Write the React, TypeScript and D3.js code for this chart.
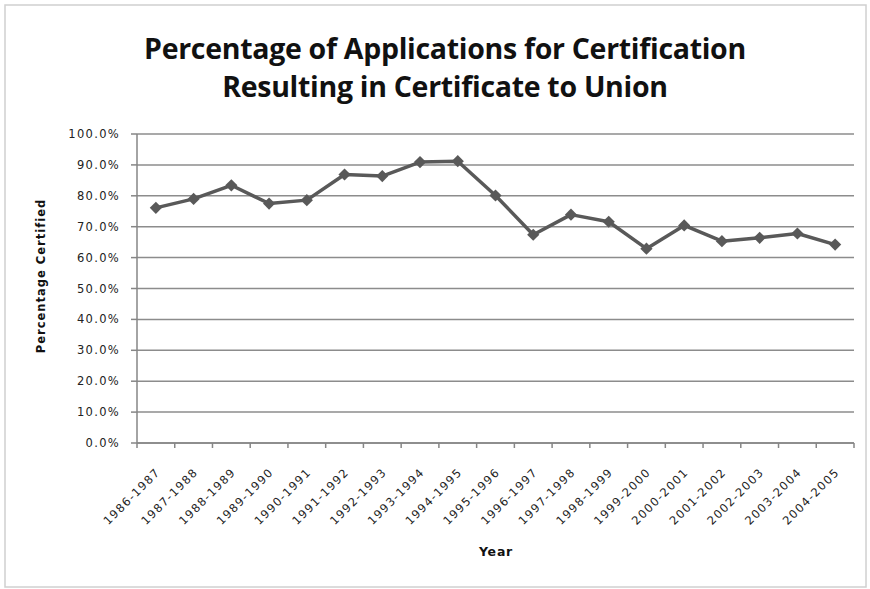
import React from 'react';
import * as d3 from 'd3';

const years = [
  '1986-1987', '1987-1988', '1988-1989', '1989-1990', '1990-1991',
  '1991-1992', '1992-1993', '1993-1994', '1994-1995', '1995-1996',
  '1996-1997', '1997-1998', '1998-1999', '1999-2000', '2000-2001',
  '2001-2002', '2002-2003', '2003-2004', '2004-2005',
];

// percentage certified
const certified = [
  76.1, 79.0, 83.4, 77.5, 78.6, 86.9, 86.4, 90.9, 91.2, 80.1,
  67.4, 73.9, 71.6, 62.9, 70.4, 65.3, 66.4, 67.8, 64.2,
];

const yTicks = [0, 10, 20, 30, 40, 50, 60, 70, 80, 90, 100];

const titleLines = [
  'Percentage of Applications for Certification',
  'Resulting in Certificate to Union',
];

const W = 870;
const H = 589;
const left = 137;
const right = 854;
const top = 134;
const bottom = 443;

const App: React.FC = () => {
  const x = d3.scaleBand().domain(years).range([left, right]);
  const y = d3.scaleLinear().domain([0, 100]).range([bottom, top]);

  const pts = years.map((yr, i) => [x(yr)! + x.bandwidth() / 2, y(certified[i])] as [number, number]);
  const line = d3.line()(pts) || '';
  const diamond = d3.symbol().type(d3.symbolDiamond2).size(95)() || '';

  const tickFont = { fontFamily: 'DejaVu Sans', fontSize: 11.5, fill: '#222', letterSpacing: 1.3 };

  return (
    <svg width={W} height={H} style={{ position: 'absolute', left: 0, top: 0, background: '#fff' }}>
      <rect x={5} y={5} width={861} height={582} fill="#fff" stroke="#d0d0d0" strokeWidth={1.5} />

      {titleLines.map((t, i) => (
        <text key={t} x={445} y={59 + i * 38} textAnchor="middle"
          style={{ fontFamily: 'Open Sans', fontWeight: 700, fontSize: 28.5, fill: '#111', letterSpacing: -0.3 }}>
          {t}
        </text>
      ))}

      {/* gridlines */}
      {yTicks.map(t => (
        <line key={t} x1={left} x2={right} y1={y(t)} y2={y(t)} stroke="#8c8c8c" strokeWidth={1.5} />
      ))}

      {/* y axis */}
      <line x1={left} x2={left} y1={top} y2={bottom} stroke="#868686" strokeWidth={1.5} />
      {yTicks.map(t => (
        <g key={'yt' + t}>
          <line x1={left - 6} x2={left} y1={y(t)} y2={y(t)} stroke="#868686" strokeWidth={1.5} />
          <text x={120} y={y(t) + 4} textAnchor="end" style={tickFont}>
            {d3.format('.1f')(t) + '%'}
          </text>
        </g>
      ))}

      {/* x axis */}
      <line x1={left} x2={right} y1={bottom} y2={bottom} stroke="#868686" strokeWidth={1.5} />
      {years.map(yr => (
        <line key={'xt' + yr} x1={x(yr)!} x2={x(yr)!} y1={bottom} y2={bottom + 5} stroke="#868686" strokeWidth={1.5} />
      ))}
      <line x1={right} x2={right} y1={bottom} y2={bottom + 5} stroke="#868686" strokeWidth={1.5} />
      {years.map(yr => {
        const cx = x(yr)! + x.bandwidth() / 2;
        return (
          <text key={'xl' + yr} transform={`translate(${cx + 5},${473}) rotate(-45)`} textAnchor="end" style={tickFont}>
            {yr}
          </text>
        );
      })}

      <text x={496} y={556} textAnchor="middle"
        style={{ fontFamily: 'DejaVu Sans', fontWeight: 700, fontSize: 12.5, fill: '#111', letterSpacing: 0.8 }}>
        Year
      </text>
      <text transform="translate(45,276) rotate(-90)" textAnchor="middle"
        style={{ fontFamily: 'DejaVu Sans', fontWeight: 700, fontSize: 11.5, fill: '#111', letterSpacing: 1 }}>
        Percentage Certified
      </text>

      {/* series */}
      <path d={line} fill="none" stroke="#595959" strokeWidth={3.5} strokeLinejoin="round" />
      {pts.map((p, i) => (
        <path key={'m' + i} d={diamond} transform={`translate(${p[0]},${p[1]})`} fill="#595959" />
      ))}
    </svg>
  );
};

export default App;
